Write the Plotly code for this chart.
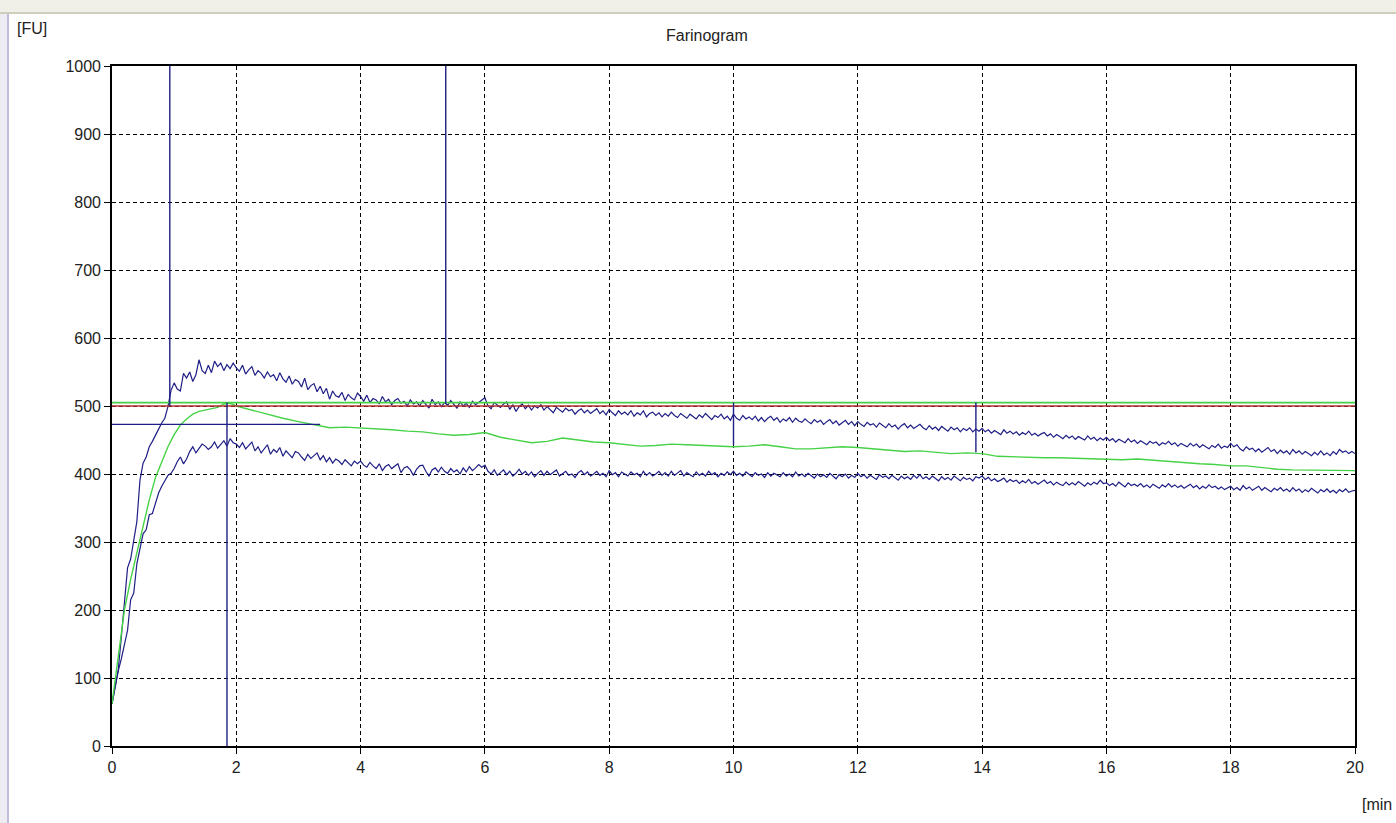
import numpy as np
import plotly.graph_objects as go

# ---------------- data ----------------
time_min = np.round(np.arange(0, 20.0001, 0.05), 2)

upper_fu = [
    62, 85, 112, 160, 215, 262, 275, 300, 330, 391, 416, 425, 440, 448, 458, 466, 475, 482, 499, 523,
    534, 525, 522, 548, 541, 550, 536, 546, 568, 552, 548, 560, 549, 566, 558, 563, 552, 561, 555, 563,
    556, 551, 560, 547, 553, 558, 545, 552, 548, 541, 550, 543, 546, 537, 549, 540, 535, 544, 532, 539,
    536, 528, 541, 524, 530, 533, 521, 529, 518, 526, 510, 522, 515, 513, 520, 508, 517, 512, 509, 519,
    514, 507, 516, 505, 511, 509, 503, 514, 506, 510, 502, 508, 511, 504, 507, 500, 509, 503, 506, 500,
    508, 503, 497, 510, 502, 506, 499, 505, 501, 508, 503, 497, 506, 500, 504, 498, 507, 502, 505, 509,
    512, 500, 496, 505, 501, 498, 503, 506, 495, 502, 492, 499, 503, 496, 501, 494, 500, 497, 502, 494,
    499, 495, 490, 498, 494, 491, 497, 493, 495, 488, 493, 496, 490, 494, 489, 492, 496, 489, 493, 487,
    495, 490, 486, 493, 488, 491, 487, 493, 485, 490, 487, 493, 484, 489, 491, 486, 490, 484, 489, 485,
    491, 486, 483, 489, 485, 482, 488, 484, 481, 487, 483, 489, 485, 480, 486, 483, 488, 481, 485, 479,
    488, 482, 479, 486, 481, 484, 480, 485, 478, 483, 477, 482, 485, 479, 483, 476, 481, 478, 483, 476,
    482, 478, 476, 481, 477, 474, 480, 476, 479, 473, 477, 480, 474, 478, 472, 476, 479, 473, 477, 471,
    477, 473, 470, 476, 472, 474, 469, 475, 471, 468, 474, 469, 472, 466, 471, 474, 468, 472, 467, 470,
    473, 468, 465, 471, 466, 469, 464, 470, 466, 463, 469, 465, 468, 462, 467, 464, 468, 462, 466, 463,
    467, 462, 465, 460, 464, 461, 458, 465, 460, 463, 459, 462, 457, 461, 458, 463, 457, 460, 456, 459,
    461, 456, 459, 454, 458, 455, 452, 457, 453, 456, 451, 455, 452, 450, 456, 451, 454, 449, 453, 450,
    454, 449, 452, 447, 451, 448, 446, 452, 447, 450, 445, 449, 446, 443, 448, 445, 447, 442, 446, 444,
    448, 443, 446, 441, 445, 442, 440, 445, 441, 444, 439, 443, 440, 437, 442, 439, 444, 438, 441, 439,
    445, 440, 443, 437, 434, 440, 436, 438, 433, 437, 432, 436, 439, 433, 436, 430, 435, 431, 434, 429,
    436, 431, 434, 429, 433, 430, 427, 432, 428, 434, 428, 431, 427, 433, 429, 436, 432, 434, 430, 433,
    430,
]

lower_fu = [
    62, 88, 110, 128, 150, 170, 215, 225, 268, 288, 312, 318, 340, 342, 358, 372, 382, 390, 398, 401,
    408, 418, 425, 415, 422, 433, 440, 431, 437, 444, 441, 436, 440, 447, 438, 444, 449, 441, 452, 446,
    444, 439, 446, 437, 442, 447, 434, 440, 431, 438, 443, 429, 436, 432, 439, 426, 434, 429, 424, 433,
    431, 425, 420, 429, 423, 427, 431, 421, 427, 418, 424, 416, 422, 419, 414, 421, 417, 412, 419, 415,
    419, 413, 410, 417, 412, 408, 415, 405, 411, 414, 408, 412, 415, 402, 409, 411, 406, 398, 407, 412,
    413, 404, 397, 406, 409, 403, 410, 404, 401, 408, 403, 406, 400, 409, 403, 411, 405, 409, 414, 410,
    413, 404, 400, 406, 398, 402, 406, 399, 404, 397, 401, 407, 400, 404, 398, 403, 396, 401, 405, 398,
    404, 399, 402, 406, 397, 401, 404, 398, 400, 395, 402, 405, 399, 403, 397, 400, 404, 398, 401, 396,
    405, 399, 402, 396, 403, 400, 397, 403, 399, 401, 396, 404, 398, 402, 397, 400, 404, 398, 402, 397,
    404, 398, 401, 405, 397, 402, 399, 396, 403, 398, 401, 397, 404, 399, 402, 396, 401, 398, 403, 399,
    404, 398, 401, 397, 403, 399, 396, 402, 398, 400, 395, 402, 397, 401, 398, 396, 402, 397, 400, 396,
    403, 397, 400, 396, 401, 398, 394, 400, 396, 399, 395, 401, 397, 393, 399, 396, 400, 394, 398, 395,
    401, 396, 399, 394, 398, 395, 392, 399, 395, 397, 393, 398, 394, 391, 397, 393, 396, 392, 398, 394,
    399, 393, 396, 392, 397, 394, 390, 396, 392, 395, 391, 397, 393, 390, 395, 392, 394, 390, 396, 394,
    397, 392, 395, 390, 393, 389, 391, 394, 388, 392, 389, 391, 386, 390, 387, 392, 386, 389, 385, 388,
    391, 386, 389, 384, 388, 385, 383, 388, 384, 387, 384, 389, 385, 382, 387, 384, 388, 385, 391, 386,
    387, 383, 386, 382, 388, 384, 381, 387, 383, 385, 382, 386, 381, 384, 380, 385, 382, 379, 384, 381,
    386, 381, 384, 380, 383, 379, 382, 385, 380, 383, 378, 382, 379, 384, 380, 382, 378, 381, 377, 380,
    382, 377, 380, 376, 383, 378, 381, 376, 379, 382, 376, 380, 377, 374, 379, 376, 380, 375, 378, 374,
    380, 375, 378, 373, 377, 374, 379, 375, 372, 377, 374, 378, 373, 376, 372, 377, 374, 378, 373, 375,
    376,
]

mean_time_min = [
    0.0, 0.1, 0.2, 0.3, 0.4, 0.5, 0.6, 0.7, 0.8, 0.9,
    1.0, 1.1, 1.2, 1.3, 1.4, 1.5, 1.6, 1.7, 1.8, 1.9,
    2.0, 2.25, 2.5, 2.75, 3.0, 3.25, 3.5, 3.75, 4.0, 4.25,
    4.5, 4.75, 5.0, 5.25, 5.5, 5.75, 6.0, 6.25, 6.5, 6.75,
    7.0, 7.25, 7.5, 7.75, 8.0, 8.25, 8.5, 8.75, 9.0, 9.25,
    9.5, 9.75, 10.0, 10.25, 10.5, 10.75, 11.0, 11.25, 11.5, 11.75,
    12.0, 12.25, 12.5, 12.75, 13.0, 13.25, 13.5, 13.75, 14.0, 14.25,
    14.5, 14.75, 15.0, 15.25, 15.5, 15.75, 16.0, 16.25, 16.5, 16.75,
    17.0, 17.25, 17.5, 17.75, 18.0, 18.25, 18.5, 18.75, 19.0, 19.25,
    19.5, 19.75, 20.0,
]
mean_fu = [
    62, 130, 200, 245, 283, 325, 362, 395, 418, 440,
    458, 472, 481, 488, 492, 494, 496, 498, 503, 504,
    500, 494, 487, 482, 477, 472, 468, 469, 468, 466,
    465, 463, 462, 459, 457, 458, 461, 454, 450, 446,
    448, 453, 450, 447, 446, 443, 441, 442, 444, 443,
    442, 441, 440, 441, 443, 440, 437, 437, 438, 440,
    439, 437, 434, 433, 434, 432, 430, 431, 430, 426,
    425, 424, 424, 424, 423, 423, 421, 421, 422, 420,
    418, 416, 415, 414, 412, 412, 409, 407, 406, 406,
    405, 405, 405,
]

# reference / evaluation lines
consistency_line_fu = 500
consistency_upper_fu = 505
# vertical markers: time, bottom, top
marker_time = [0.93, 5.37, 1.85, 10.0, 13.9]
marker_bottom = [500, 503, 0, 443, 432]
marker_top = [1000, 1000, 505, 505, 505]
# horizontal marker: value, start, end
hmark_fu = 473
hmark_start = 0.0
hmark_end = 3.35

x_ticks = [0, 2, 4, 6, 8, 10, 12, 14, 16, 18, 20]
y_ticks = [0, 100, 200, 300, 400, 500, 600, 700, 800, 900, 1000]

# ---------------- figure ----------------
NAVY = "#1f1f86"
GREEN = "#46d246"
RED = "#b83232"
FONT = "Arial, Liberation Sans, sans-serif"
TXT = "#222222"

W, H = 1396, 823
L, R, T, B = 112, 41, 66, 77
pw, ph = W - L - R, H - T - B


def px_x(p):
    return (p - L) / pw


def px_y(p):
    return (H - B - p) / ph


fig = go.Figure()

fig.add_trace(go.Scatter(x=time_min, y=upper_fu, mode="lines",
                         line=dict(color=NAVY, width=1.2), hoverinfo="skip"))
fig.add_trace(go.Scatter(x=time_min, y=lower_fu, mode="lines",
                         line=dict(color=NAVY, width=1.2), hoverinfo="skip"))
fig.add_trace(go.Scatter(x=mean_time_min, y=mean_fu, mode="lines",
                         line=dict(color=GREEN, width=1.4), hoverinfo="skip"))

shapes = []
# horizontal reference lines
shapes.append(dict(type="line", xref="x", yref="y", x0=0, x1=20,
                   y0=consistency_upper_fu, y1=consistency_upper_fu,
                   line=dict(color=GREEN, width=1.6)))
shapes.append(dict(type="line", xref="x", yref="y", x0=0, x1=20,
                   y0=consistency_line_fu, y1=consistency_line_fu,
                   line=dict(color=RED, width=1.4)))
for t, y0, y1 in zip(marker_time, marker_bottom, marker_top):
    shapes.append(dict(type="line", xref="x", yref="y", x0=t, x1=t,
                       y0=y0, y1=y1, line=dict(color=NAVY, width=1.4)))
shapes.append(dict(type="line", xref="x", yref="y", x0=hmark_start, x1=hmark_end,
                   y0=hmark_fu, y1=hmark_fu, line=dict(color=NAVY, width=1.4)))

# window chrome: top bar and left strip
shapes.append(dict(type="rect", xref="paper", yref="paper", layer="below",
                   x0=px_x(0), x1=px_x(W), y0=px_y(12), y1=px_y(0),
                   fillcolor="#f1f0e8", line=dict(width=0)))
shapes.append(dict(type="line", xref="paper", yref="paper",
                   x0=px_x(0), x1=px_x(W), y0=px_y(13), y1=px_y(13),
                   line=dict(color="#cfcdbd", width=2)))
shapes.append(dict(type="rect", xref="paper", yref="paper", layer="below",
                   x0=px_x(0), x1=px_x(7), y0=px_y(H), y1=px_y(14),
                   fillcolor="#ececf2", line=dict(width=0)))
shapes.append(dict(type="line", xref="paper", yref="paper",
                   x0=px_x(8), x1=px_x(8), y0=px_y(H), y1=px_y(14),
                   line=dict(color="#a9a9d0", width=1.5)))

annotations = [
    dict(text="Farinogram", xref="paper", yref="paper", x=px_x(707), y=px_y(36),
         showarrow=False, font=dict(family=FONT, size=16, color=TXT),
         xanchor="center", yanchor="middle"),
    dict(text="[FU]", xref="paper", yref="paper", x=px_x(15), y=px_y(29),
         showarrow=False, font=dict(family=FONT, size=16, color=TXT),
         xanchor="left", yanchor="middle"),
    dict(text="[min", xref="paper", yref="paper", x=px_x(1394), y=px_y(804),
         showarrow=False, font=dict(family=FONT, size=16, color=TXT),
         xanchor="right", yanchor="middle"),
]

fig.update_layout(
    width=W, height=H,
    margin=dict(l=L, r=R, t=T, b=B, pad=0),
    paper_bgcolor="white", plot_bgcolor="white",
    showlegend=False,
    shapes=shapes, annotations=annotations,
    font=dict(family=FONT, size=16, color=TXT),
)

axis_common = dict(
    showline=True, linecolor="black", linewidth=1.6, mirror=True,
    showgrid=True, gridcolor="black", gridwidth=1, griddash="4px,3px",
    zeroline=False, ticks="outside", ticklen=6, tickcolor="black", tickwidth=1,
    tickfont=dict(family=FONT, size=16, color=TXT),
)
fig.update_xaxes(range=[0, 20], tickvals=x_ticks, **axis_common)
fig.update_yaxes(range=[0, 1000], tickvals=y_ticks, **axis_common)

fig.write_html("out.html")
